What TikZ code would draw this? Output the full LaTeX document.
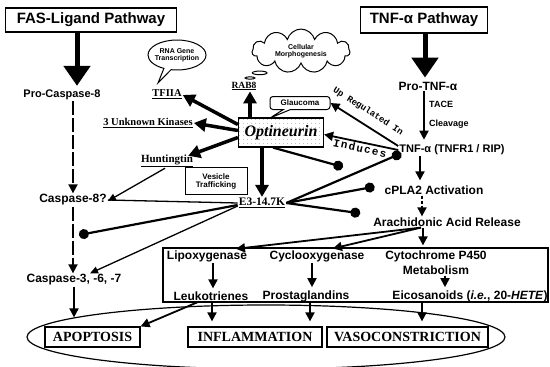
\documentclass[tikz,border=0pt]{standalone}
\usepackage{fontspec}
\setmainfont{Liberation Serif}
\setsansfont{Liberation Sans}
\setmonofont{Liberation Mono}
\usetikzlibrary{arrows.meta,shapes.geometric,shapes.callouts,shapes.symbols,patterns.meta}
\newcommand{\fsz}[1]{\fontsize{#1}{#1}\selectfont}
\begin{document}
\begin{tikzpicture}[x=1pt,y=-1pt,
  lbl/.style={font=\sffamily\bfseries\fsz{12}, inner sep=1pt},
  small/.style={font=\sffamily\bfseries\fsz{9}, inner sep=1pt},
  gene/.style={font=\rmfamily\bfseries\fsz{10.5}, inner sep=1pt},
  pathtitle/.style={draw, line width=1.2pt, font=\sffamily\bfseries\fsz{15}, inner sep=0pt},
  outcome/.style={draw, line width=1.2pt, font=\rmfamily\bfseries\fsz{14}, inner sep=0pt, minimum height=20pt},
  bigarrow/.style={line width=5pt, -{Triangle[length=20pt,width=26pt]}},
  arrowline/.style={line width=1.8pt, -{Triangle[length=9pt,width=9pt]}},
  heavyarrow/.style={line width=3.5pt, -{Triangle[length=12pt,width=13pt]}},
  inhibit/.style={line width=2.2pt, -{Circle[length=10pt]}},
  thinarrow/.style={line width=1.3pt, -{Triangle[length=8pt,width=7pt]}},
  dashedarrow/.style={arrowline, dash pattern=on 14pt off 3pt},
  dottedarrow/.style={arrowline, dash pattern=on 3pt off 2pt},
  verb/.style={font=\ttfamily\bfseries\fsz{#1}, inner sep=1pt},
]
\useasboundingbox (0,0) rectangle (550,367);

% pathway headers
\node[pathtitle, minimum width=171pt, minimum height=24pt] (fas) at (91,20) {FAS-Ligand Pathway};
\node[pathtitle, minimum width=127pt, minimum height=26pt] (tnfp) at (424,20) {TNF-α Pathway};

% FAS-ligand branch
\node[lbl, font=\sffamily\bfseries\fsz{11}] (procasp) at (62,95) {Pro-Caspase-8};
\node[lbl] (casp8) at (73,200) {Caspase-8?};
\node[lbl] (casp3) at (74,280) {Caspase-3, -6, -7};

% TNF branch
\node[lbl] (protnf) at (428,86) {Pro-TNF-α};
\node[small, anchor=west] (tace) at (428,104) {TACE};
\node[small, anchor=west] (cleav) at (428,124) {Cleavage};
\node[lbl, font=\sffamily\bfseries\fsz{11}] (tnf) at (452,150) {TNF-α (TNFR1 / RIP)};
\node[lbl] (cpla) at (434,190) {cPLA2 Activation};
\node[lbl] (aa) at (447,222) {Arachidonic Acid Release};

% optineurin and partners
\node[draw, line width=1.2pt, preaction={fill=white}, pattern={Dots[radius=0.45pt,distance=4pt]}, pattern color=black!55,
      minimum width=85pt, minimum height=29pt, inner sep=0pt,
      font=\rmfamily\bfseries\itshape\fsz{16}] (opt) at (281,132.5) {Optineurin};
\node[draw, rectangle callout, rounded corners=3pt, line width=1pt, font=\sffamily\bfseries\fsz{8},
      minimum width=60pt, minimum height=13pt, inner sep=1pt,
      callout absolute pointer={(270,118)}] (glau) at (300,103) {Glaucoma};
\node[draw, ellipse callout, line width=1pt, font=\sffamily\bfseries\fsz{7}, align=center,
      minimum width=58pt, minimum height=30pt, inner xsep=-5pt, inner ysep=-2pt,
      callout absolute pointer={(158,83)}] (rna) at (177,55) {RNA Gene\\Transcription};
\node[draw, cloud callout, cloud puffs=11, aspect=2.5, line width=1pt, font=\sffamily\bfseries\fsz{7},
      align=center, inner sep=0pt, minimum width=98pt, minimum height=40pt,
      callout absolute pointer={(250,78)}] (cloud) at (301,51) {Cellular\\Morphogenesis};

\node[gene] (tfiia) at (167,94) {\underline{TFIIA}};
\node[gene, font=\rmfamily\bfseries\fsz{9.5}] (rab8) at (244,86) {\underline{RAB8}};
\node[gene] (kin) at (148,123) {\underline{3 Unknown Kinases}};
\node[gene, font=\rmfamily\bfseries\fsz{11}] (hunt) at (167,161) {\underline{Huntingtin}};
\node[gene, font=\rmfamily\bfseries\fsz{11.5}] (e3) at (262,203) {\underline{E3-14.7K}};
\node[draw, line width=1pt, font=\sffamily\bfseries\fsz{8}, align=center,
      minimum width=62pt, minimum height=27pt, inner sep=0pt] (ves) at (216,181) {Vesicle\\Trafficking};

% eicosanoid metabolism panel
\node[draw, line width=1.2pt, minimum width=385pt, minimum height=54pt, inner sep=0pt] (met) at (355.5,275) {};
\node[lbl] (lipo) at (207,256) {Lipoxygenase};
\node[lbl] (cox) at (317,256) {Cyclooxygenase};
\node[lbl] (cyp) at (436,256) {Cytochrome P450};
\node[lbl] (metab) at (436,270) {Metabolism};
\node[lbl] (leuk) at (211,296) {Leukotrienes};
\node[lbl] (prost) at (306,296) {Prostaglandins};
\node[lbl] (eico) at (470,296) {Eicosanoids (\textit{i.e.}, 20-\textit{HETE})};

% outcomes
\node[draw, ellipse, line width=1.2pt, minimum width=478pt, minimum height=64pt, inner sep=0pt] (outcomes) at (266,337) {};
\node[outcome, minimum width=95pt] (apop) at (92.5,337) {APOPTOSIS};
\node[outcome, minimum width=134pt] (infl) at (255,337) {INFLAMMATION};
\node[outcome, minimum width=161pt] (vaso) at (407.5,337) {VASOCONSTRICTION};

\coordinate (optblock) at (343,167);
\coordinate (caspblock) at (79,235);

% header arrows
\draw[bigarrow, shorten >=3pt] ([xshift=-14pt]fas.south) -- ([xshift=15pt]procasp.north);
\draw[bigarrow, shorten >=3pt] ([xshift=1pt]tnfp.south) -- ([xshift=-3pt]protnf.north);

% caspase cascade
\draw[dashedarrow] ([xshift=11pt]procasp.south) -- (casp8.north);
\draw[dashedarrow] (casp8.south) -- ([xshift=-1pt]casp3.north);
\draw[arrowline, shorten >=9pt] (casp3.south) -- (apop.north -| casp3.south);

% TNF cascade
\draw[arrowline, shorten >=4pt] ([xshift=-4pt]protnf.south) -- ([xshift=-4pt]protnf.south |- tnf.north);
\draw[arrowline, shorten >=4pt] ([xshift=-32pt]tnf.south) -- ([xshift=-14pt]cpla.north);
\draw[dottedarrow] ([xshift=-12pt]cpla.south) -- ([xshift=-25pt]aa.north);
\draw[arrowline, shorten >=2pt] ([xshift=-24pt]aa.south) -- ([xshift=-24pt]aa.south |- met.north);
\draw[arrowline, shorten >=3pt] ([xshift=-26pt]aa.south) -- ([xshift=26pt]lipo.north);
\draw[arrowline, shorten >=3pt] ([xshift=-26pt]aa.south) -- ([xshift=13pt]cox.north);

% TNF feedback onto optineurin
\draw[line width=1.8pt, {Triangle[length=9pt,width=9pt]}-] (glau.east) --
  node[sloped, above=7pt, pos=0.45, verb=9] {Up Regulated In} ([yshift=4pt]tnf.west);
\draw[line width=1.8pt, {Triangle[length=9pt,width=9pt]}-] ([yshift=-2pt]opt.east) --
  node[sloped, below=0pt, verb=11] {\addfontfeature{LetterSpace=12}Induces} (tnf.west);

% optineurin outputs
\draw[heavyarrow] ([yshift=8pt]opt.west) -- ([yshift=-1pt]tfiia.east);
\draw[heavyarrow] ([yshift=2pt]opt.west) -- (kin.east);
\draw[heavyarrow] ([yshift=-5pt]opt.west) -- ([xshift=-6pt,yshift=-2pt]hunt.north east);
\draw[heavyarrow] ([xshift=-31pt]opt.north) -- ([xshift=6pt]rab8.south);
\draw[heavyarrow] ([xshift=-19pt]opt.south) -- (e3.north);
\draw[inhibit] ([xshift=-8pt]opt.south) -- (optblock);

% E3-14.7K interactions
\draw[line width=1.3pt] (e3.west) -- (casp8.east);
\draw[thinarrow] ([xshift=-2pt]hunt.south) -- ([yshift=-1pt]casp8.east);
\draw[inhibit] ([yshift=-2pt]e3.west) -- (caspblock);
\draw[thinarrow] ([yshift=-3pt]e3.west) -- ([xshift=16pt]casp3.north);
\draw[inhibit] (e3.east) -- ([xshift=3pt,yshift=3pt]tnf.south west);
\draw[inhibit, shorten >=9pt] (e3.east) -- ([yshift=5pt]cpla.west);
\draw[inhibit, shorten >=12pt] (e3.east) -- ([yshift=7pt]aa.west);

% metabolism arrows
\draw[arrowline, shorten >=2pt] ([xshift=6pt]lipo.south) -- ([xshift=2pt]leuk.north);
\draw[arrowline, shorten >=2pt] ([xshift=-5pt]cox.south) -- ([xshift=6pt]prost.north);
\draw[arrowline, shorten >=2pt] ([xshift=9pt]metab.south) -- ([xshift=-25pt]eico.north);

% outcome arrows
\draw[arrowline, shorten >=5pt] ([xshift=1pt]leuk.south) -- ([xshift=1pt]leuk.south |- infl.north);
\draw[arrowline, shorten >=5pt] ([xshift=4pt]prost.south) -- ([xshift=4pt]prost.south |- infl.north);
\draw[arrowline, shorten >=5pt] ([xshift=-48pt]eico.south) -- ([xshift=-48pt]eico.south |- vaso.north);
\draw[arrowline] ([xshift=-12pt]leuk.south) -- (apop.north east);
\end{tikzpicture}
\end{document}
